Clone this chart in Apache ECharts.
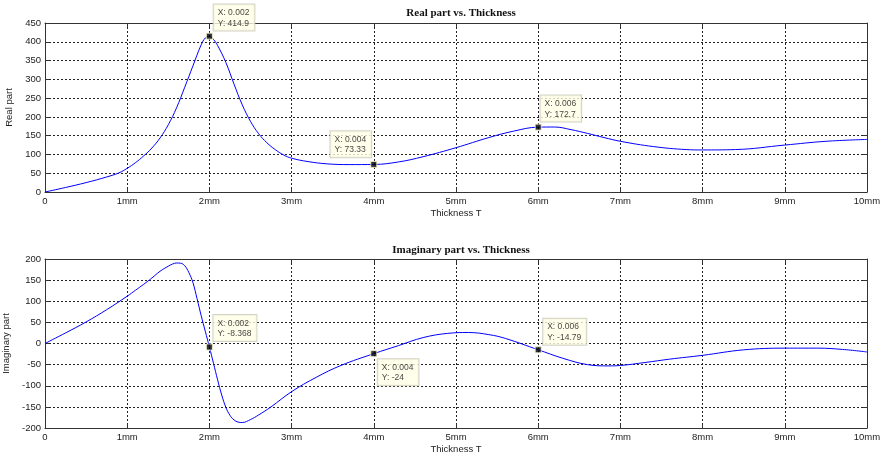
<!DOCTYPE html>
<html>
<head>
<meta charset="utf-8">
<script src="https://cdn.jsdelivr.net/npm/echarts@6/dist/echarts.min.js"></script>
<style>html,body{margin:0;padding:0;background:#fff;}#c{width:880px;height:461px;}</style>
</head>
<body>
<div id="c"></div>
<script>
// ---- data (thickness in mm) ----
var realT = [0,0.25,0.5,0.75,0.9,1.0,1.1,1.2,1.3,1.4,1.5,1.6,1.7,1.8,1.9,1.95,2.0,2.05,2.1,2.2,2.3,2.4,2.5,2.6,2.7,2.8,2.9,3.0,3.2,3.43,3.7,4.0,4.3,4.6,5.0,5.4,5.7,6.0,6.2,6.4,6.6,6.8,7.0,7.4,7.8,8.0,8.4,9.0,9.5,10.0];
var realV = [0,12,25,40,51,63,78,96,117,144,179,224,279,336,392,410,414.9,406,390,345,287,232,188,155,131,113,99,90,81,75,73,73.33,80,94,118,145,162,172.7,173,166,156,145,135,121,113,112,113,125,135,140];
var imagT = [0,0.25,0.5,0.75,1.0,1.1,1.2,1.3,1.4,1.5,1.55,1.6,1.65,1.7,1.75,1.8,1.85,1.9,1.95,2.0,2.05,2.1,2.15,2.2,2.25,2.3,2.35,2.4,2.5,2.6,2.75,3.0,3.3,3.6,4.0,4.3,4.6,4.9,5.15,5.4,5.6,6.0,6.3,6.6,6.85,7.0,7.3,7.6,8.0,8.5,9.0,9.4,9.7,10.0];
var imagV = [0,25,51,80,112,126,140,155,171,183,188,190.5,190,184,168,144,106,66,29,-8.368,-47,-86,-122,-151,-170,-181,-186,-187,-180,-169,-150,-114,-80,-52,-24,-5,14,24,26,21,12,-14.79,-35,-50,-53,-52,-45,-37,-28,-15,-11,-11,-14,-20];
var tipT = [2, 4, 6];
var tipReal = [414.9, 73.33, 172.7];
var tipImag = [-8.368, -24, -14.79];
var titles = ['Real part vs. Thickness', 'Imaginary part vs. Thickness'];
var yNames = ['Real part', 'Imaginary part'];
var xName = 'Thickness T';

function pairs(xs, ys){ return xs.map(function(x,i){ return [x, ys[i]]; }); }

var FONT = 'Liberation Sans, Arial, sans-serif';
var gridLine = {show:true, lineStyle:{color:'#222', type:[2,2], width:1}};
var axLine = {show:true, onZero:false, lineStyle:{color:'#333', width:1}};
var tick = {show:true, inside:true, length:4, lineStyle:{color:'#333'}};
var lbl = {fontFamily:FONT, fontSize:9.5, color:'#222'};

// label box offsets (relative to marker box)
var tipPosReal = [[7.8,-28.2],[-39.8,-29.8],[5.8,-28.2]];
var tipPosImag = [[7.5,-28.5],[7.5,9.2],[8.5,-27.5]];

function tipData(vals, pos){
  return tipT.map(function(t,i){
    return {
      value:[t, vals[i]],
      label:{position:pos[i], formatter:'X: ' + (t/1000) + '\nY: ' + vals[i]}
    };
  });
}

var grids = [
  {left:45, right:13, top:23, height:169, containLabel:false, outerBoundsMode:'none'},
  {left:45, right:13, top:259, height:169, containLabel:false, outerBoundsMode:'none'}
];

var xAxes = [], yAxes = [];
[0,1].forEach(function(g){
  xAxes.push({gridIndex:g, type:'value', min:0, max:10, interval:1, position:'bottom',
    name:xName, nameLocation:'middle', nameGap:16, nameTextStyle:{fontFamily:FONT, fontSize:9.5, color:'#222'},
    axisLine:axLine, axisTick:tick, splitLine:gridLine,
    axisLabel:Object.assign({margin:4, formatter:function(v){ return v===0 ? '0' : v + 'mm'; }}, lbl)});
  xAxes.push({gridIndex:g, type:'value', min:0, max:10, interval:1, position:'top',
    axisLine:axLine, axisTick:tick, splitLine:{show:false}, axisLabel:{show:false}});
  var mn = g===0 ? 0 : -200, mx = g===0 ? 450 : 200;
  yAxes.push({gridIndex:g, type:'value', min:mn, max:mx, interval:50, position:'left',
    name:yNames[g], nameLocation:'middle', nameGap: g===0 ? 25 : 28, nameRotate:90,
    nameTextStyle:{fontFamily:FONT, fontSize:9.5, color:'#222'},
    axisLine:axLine, axisTick:tick, splitLine:gridLine,
    axisLabel:Object.assign({margin:4}, lbl)});
  yAxes.push({gridIndex:g, type:'value', min:mn, max:mx, interval:50, position:'right',
    axisLine:axLine, axisTick:tick, splitLine:{show:false}, axisLabel:{show:false}});
});

var tipLabel = {show:true, align:'left', verticalAlign:'top', fontFamily:FONT, fontSize:8.5, lineHeight:10.5,
  color:'#111', backgroundColor:'#ffffe6', borderColor:'#c8c8b8', borderWidth:1, padding:[3,5,2,4]};

var option = {
  backgroundColor:'#fff',
  animation:false,
  title:[
    {text:titles[0], left:456, top:3, textAlign:'center', textStyle:{fontFamily:'Liberation Serif, Times New Roman, serif', fontWeight:'bold', fontSize:11, color:'#111'}},
    {text:titles[1], left:456, top:240, textAlign:'center', textStyle:{fontFamily:'Liberation Serif, Times New Roman, serif', fontWeight:'bold', fontSize:11, color:'#111'}}
  ],
  grid:grids,
  xAxis:xAxes,
  yAxis:yAxes,
  series:[
    {type:'line', xAxisIndex:0, yAxisIndex:0, data:pairs(realT, realV), smooth:0.4, showSymbol:false, lineStyle:{color:'#0000ff', width:1}},
    {type:'line', xAxisIndex:2, yAxisIndex:2, data:pairs(imagT, imagV), smooth:0.4, showSymbol:false, lineStyle:{color:'#0000ff', width:1}},
    {type:'scatter', xAxisIndex:0, yAxisIndex:0, symbol:'rect', symbolSize:6, itemStyle:{color:'#000', borderColor:'#f4f4d0', borderWidth:1}, label:tipLabel, data:tipData(tipReal, tipPosReal), z:5},
    {type:'scatter', xAxisIndex:2, yAxisIndex:2, symbol:'rect', symbolSize:6, itemStyle:{color:'#000', borderColor:'#f4f4d0', borderWidth:1}, label:tipLabel, data:tipData(tipImag, tipPosImag), z:5}
  ]
};
var chart = echarts.init(document.getElementById('c'), null, {renderer:'canvas'});
chart.setOption(option);
</script>
</body>
</html>
